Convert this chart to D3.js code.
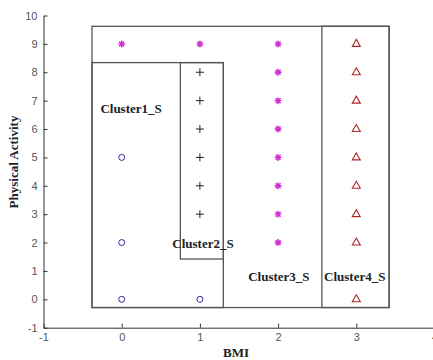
<!DOCTYPE html>
<html>
<head>
<meta charset="utf-8">
<script src="https://cdn.jsdelivr.net/npm/d3@7"></script>
<style>
	body { margin: 0; background: #fff; }
	.tick text { font-family: 'Liberation Sans', Arial, sans-serif; font-size: 11px; fill: #555; }
	.axis path, .axis line { stroke: #333; }
	.box { fill: none; stroke: #555; stroke-width: 1.3; }
	.lbl { font-family: 'Liberation Serif', 'Times New Roman', serif; font-weight: bold; font-size: 13px; fill: #222; }
</style>
</head>
<body>
<div id="chart"></div>
<script>
// points by cluster: [BMI, activity]
const cluster1 = [[0, 5], [0, 2], [0, 0], [1, 0]];
const cluster2 = [[1, 3], [1, 4], [1, 5], [1, 6], [1, 7], [1, 8]];
const cluster3 = [[0, 9], [1, 9], [2, 2], [2, 3], [2, 4], [2, 5], [2, 6], [2, 7], [2, 8], [2, 9]];
const cluster4 = [[3, 0], [3, 2], [3, 3], [3, 4], [3, 5], [3, 6], [3, 7], [3, 8], [3, 9]];

// boxes: [x0, x1, y0, y1]
const boxes = [
	[-0.38, 3.42, -0.29, 9.62],
	[-0.38, 1.3, -0.29, 8.34],
	[0.75, 1.3, 1.42, 8.34],
	[2.56, 3.42, -0.29, 9.62]
];

const labelNames = ['Cluster1_S', 'Cluster2_S', 'Cluster3_S', 'Cluster4_S'];
const labelPos = [[0.12, 6.72], [1.04, 1.95], [2.01, 0.8], [2.98, 0.8]];

const xTicks = [-1, 0, 1, 2, 3, 4];
const yTicks = [-1, 0, 1, 2, 3, 4, 5, 6, 7, 8, 9, 10];

const W = 433, H = 360;
const svg = d3.select('#chart').append('svg').attr('width', W).attr('height', H);

const x = d3.scaleLinear().domain([-1, 4]).range([43.5, 434.5]);
const y = d3.scaleLinear().domain([-1, 10]).range([327.7, 15.5]);

svg.append('g')
	.attr('class', 'axis')
	.attr('transform', 'translate(0,' + y(-1) + ')')
	.call(d3.axisBottom(x).tickValues(xTicks).tickSizeInner(-4).tickSizeOuter(0).tickPadding(6).tickFormat(d => String(d)));

svg.append('g')
	.attr('class', 'axis')
	.attr('transform', 'translate(' + x(-1) + ',0)')
	.call(d3.axisLeft(y).tickValues(yTicks).tickSizeInner(-4).tickSizeOuter(0).tickPadding(6).tickFormat(d => String(d)));

svg.selectAll('.box')
	.data(boxes)
	.enter()
	.append('rect')
	.attr('class', 'box')
	.attr('x', d => x(d[0]))
	.attr('y', d => y(d[3]))
	.attr('width', d => x(d[1]) - x(d[0]))
	.attr('height', d => y(d[2]) - y(d[3]));

// cluster 1: circles
svg.append('g').selectAll('circle')
	.data(cluster1)
	.enter()
	.append('circle')
	.attr('cx', d => x(d[0]))
	.attr('cy', d => y(d[1]))
	.attr('r', 3)
	.style('fill', 'none')
	.style('stroke', '#2a2a9a')
	.style('stroke-width', 1);

// cluster 2: plus
svg.append('g').selectAll('path')
	.data(cluster2)
	.enter()
	.append('path')
	.attr('d', d => {
		const cx = x(d[0]), cy = y(d[1]), s = 4;
		return 'M' + (cx - s) + ',' + cy + 'H' + (cx + s) + 'M' + cx + ',' + (cy - s) + 'V' + (cy + s);
	})
	.style('stroke', '#222')
	.style('stroke-width', 1);

// cluster 3: stars
svg.append('g').selectAll('path')
	.data(cluster3)
	.enter()
	.append('path')
	.attr('d', d => {
		const cx = x(d[0]), cy = y(d[1]), s = 3.5, t = 2.5;
		return 'M' + (cx - s) + ',' + cy + 'H' + (cx + s) + 'M' + cx + ',' + (cy - s) + 'V' + (cy + s) +
			'M' + (cx - t) + ',' + (cy - t) + 'L' + (cx + t) + ',' + (cy + t) +
			'M' + (cx - t) + ',' + (cy + t) + 'L' + (cx + t) + ',' + (cy - t);
	})
	.style('stroke', '#d030d0')
	.style('stroke-width', 1.4);

// cluster 4: triangles
svg.append('g').selectAll('path')
	.data(cluster4)
	.enter()
	.append('path')
	.attr('transform', d => 'translate(' + x(d[0]) + ',' + (y(d[1]) - 0.5) + ')')
	.attr('d', 'M0,-4L4,3L-4,3Z')
	.style('fill', 'none')
	.style('stroke', '#b02828')
	.style('stroke-width', 1.1);

svg.append('g').selectAll('text')
	.data(labelNames)
	.enter()
	.append('text')
	.attr('class', 'lbl')
	.attr('text-anchor', 'middle')
	.attr('x', (d, i) => x(labelPos[i][0]))
	.attr('y', (d, i) => y(labelPos[i][1]) + 4.5)
	.text(d => d);

svg.append('text')
	.attr('class', 'lbl')
	.attr('text-anchor', 'middle')
	.attr('x', 236)
	.attr('y', 357)
	.text('BMI');

svg.append('text')
	.attr('class', 'lbl')
	.attr('text-anchor', 'middle')
	.attr('transform', 'translate(18,' + 162 + ') rotate(-90)')
	.text('Physical Activity');
</script>
</body>
</html>
